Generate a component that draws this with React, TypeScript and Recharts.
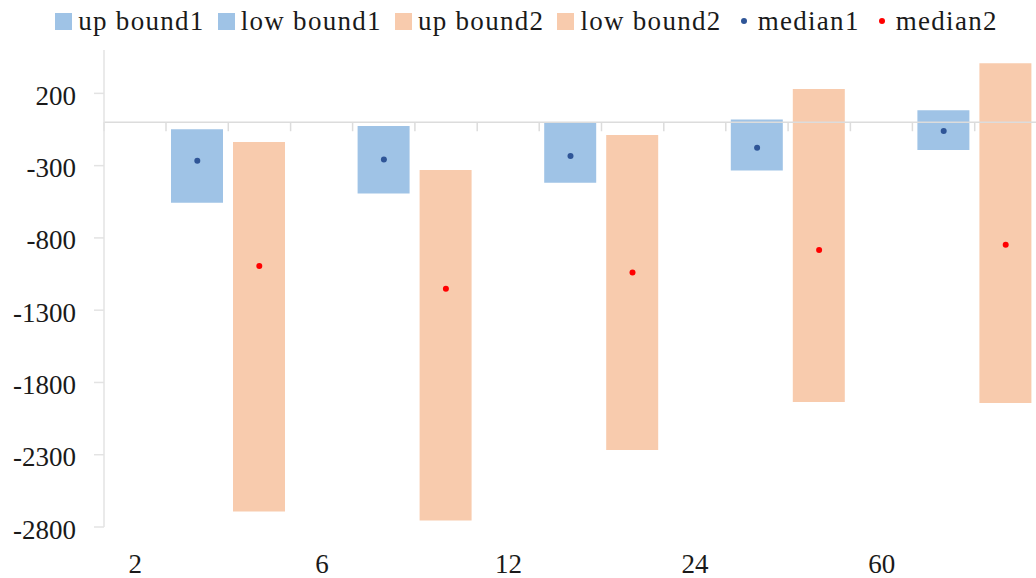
import {
  ComposedChart,
  Bar,
  Line,
  XAxis,
  YAxis,
  Legend,
  ReferenceLine,
} from 'recharts';

const categories = ['2', '6', '12', '24', '60'];
const upBound1 = [-49, -26, -5, 20, 84];
const lowBound1 = [-556, -492, -418, -333, -192];
const median1 = [-266, -257, -234, -176, -61];
const upBound2 = [-137, -330, -88, 230, 409];
const lowBound2 = [-2693, -2755, -2267, -1935, -1942];
const median2 = [-994, -1151, -1040, -884, -847];

const yTicks = [200, -300, -800, -1300, -1800, -2300, -2800];

const legendItems = [
  { label: 'up bound1', color: '#9fc3e6', kind: 'square' },
  { label: 'low bound1', color: '#9fc3e6', kind: 'square' },
  { label: 'up bound2', color: '#f8cbad', kind: 'square' },
  { label: 'low bound2', color: '#f8cbad', kind: 'square' },
  { label: 'median1', color: '#2f5597', kind: 'dot' },
  { label: 'median2', color: '#ff0000', kind: 'dot' },
];

const data = categories.map((cat, i) => ({
  cat,
  range1: [lowBound1[i], upBound1[i]],
  range2: [lowBound2[i], upBound2[i]],
  median1: median1[i],
  median2: median2[i],
}));

const FONT = '"Liberation Serif", "Times New Roman", serif';
const TEXT = '#1a1a1a';
const GRID = '#dcdcdc';
const BAND_THIRD = 62;
const TICK_DEPTH = -62; // in y units, about 9px under the zero line

// the small ticks under the zero line sit at every third of a category:
// start of the label band, start of the median2 band, middle of the bar band
const zeroTickAxes: { axis: string; position: 'start' | 'middle' }[] = [
  { axis: 'labels', position: 'start' },
  { axis: 'm2', position: 'start' },
  { axis: 'bars', position: 'middle' },
];

const CategoryTick = ({ x, y, payload }: any) => (
  <text
    x={x - BAND_THIRD}
    y={y}
    dy={44}
    textAnchor="middle"
    fill={TEXT}
    fontSize={27}
    fontFamily={FONT}
  >
    {payload.value}
  </text>
);

const LegendContent = () => (
  <div
    style={{
      display: 'flex',
      justifyContent: 'center',
      alignItems: 'center',
      height: 34,
      fontFamily: FONT,
      fontSize: 27,
      letterSpacing: 1.3,
      color: TEXT,
      whiteSpace: 'nowrap',
    }}
  >
    {legendItems.map((item) => (
      <div key={item.label} style={{ display: 'flex', alignItems: 'center', marginRight: 13 }}>
        {item.kind === 'square' ? (
          <span style={{ width: 17, height: 17, background: item.color, marginRight: 6 }} />
        ) : (
          <span
            style={{
              width: 6,
              height: 6,
              borderRadius: '50%',
              background: item.color,
              marginLeft: 6,
              marginRight: 11,
            }}
          />
        )}
        <span>{item.label}</span>
      </div>
    ))}
  </div>
);

export default function App() {
  return (
    <div
      style={{
        position: 'absolute',
        top: 0,
        left: 0,
        width: 1036,
        height: 578,
        overflow: 'hidden',
        background: '#fff',
      }}
    >
      <ComposedChart
        width={1099}
        height={578}
        data={data}
        margin={{ top: 16, right: 0, bottom: 0, left: 0 }}
        barSize={52}
        barGap={10}
      >
        <Legend
          verticalAlign="top"
          content={<LegendContent />}
          wrapperStyle={{ left: 8, width: 1050, top: 4 }}
        />
        <XAxis
          xAxisId="labels"
          dataKey="cat"
          padding={{ left: 0, right: 62 }}
          axisLine={false}
          tickLine={false}
          tickSize={0}
          tick={<CategoryTick />}
          height={51}
          interval={0}
        />
        <XAxis xAxisId="bars" dataKey="cat" padding={{ left: 31, right: 31 }} height={0} hide />
        <XAxis xAxisId="m2" dataKey="cat" padding={{ left: 62, right: 0 }} height={0} hide />
        <YAxis
          domain={[-2800, 500]}
          ticks={yTicks}
          width={104}
          axisLine={{ stroke: '#e3e3e3', strokeWidth: 1.5 }}
          tickLine={{ stroke: '#e3e3e3', strokeWidth: 1.5 }}
          tickSize={10}
          tickMargin={18}
          tick={{ fill: TEXT, fontSize: 27, fontFamily: FONT, dy: 2 }}
          interval={0}
        />
        <Bar
          xAxisId="bars"
          dataKey="range1"
          name="bound1"
          fill="#9fc3e6"
          isAnimationActive={false}
        />
        <Bar
          xAxisId="bars"
          dataKey="range2"
          name="bound2"
          fill="#f8cbad"
          isAnimationActive={false}
        />
        <ReferenceLine xAxisId="labels" y={0} stroke={GRID} strokeWidth={1.5} />
        {zeroTickAxes.map(({ axis, position }) =>
          categories.map((c) => (
            <ReferenceLine
              key={axis + c}
              xAxisId={axis}
              position={position}
              segment={[
                { x: c, y: 0 },
                { x: c, y: TICK_DEPTH },
              ]}
              stroke={GRID}
              strokeWidth={1.5}
            />
          ))
        )}
        <Line
          xAxisId="labels"
          dataKey="median1"
          stroke="none"
          dot={{ r: 3, fill: '#2f5597', stroke: 'none' }}
          activeDot={false}
          isAnimationActive={false}
        />
        <Line
          xAxisId="m2"
          dataKey="median2"
          stroke="none"
          dot={{ r: 3, fill: '#ff0000', stroke: 'none' }}
          activeDot={false}
          isAnimationActive={false}
        />
      </ComposedChart>
    </div>
  );
}
